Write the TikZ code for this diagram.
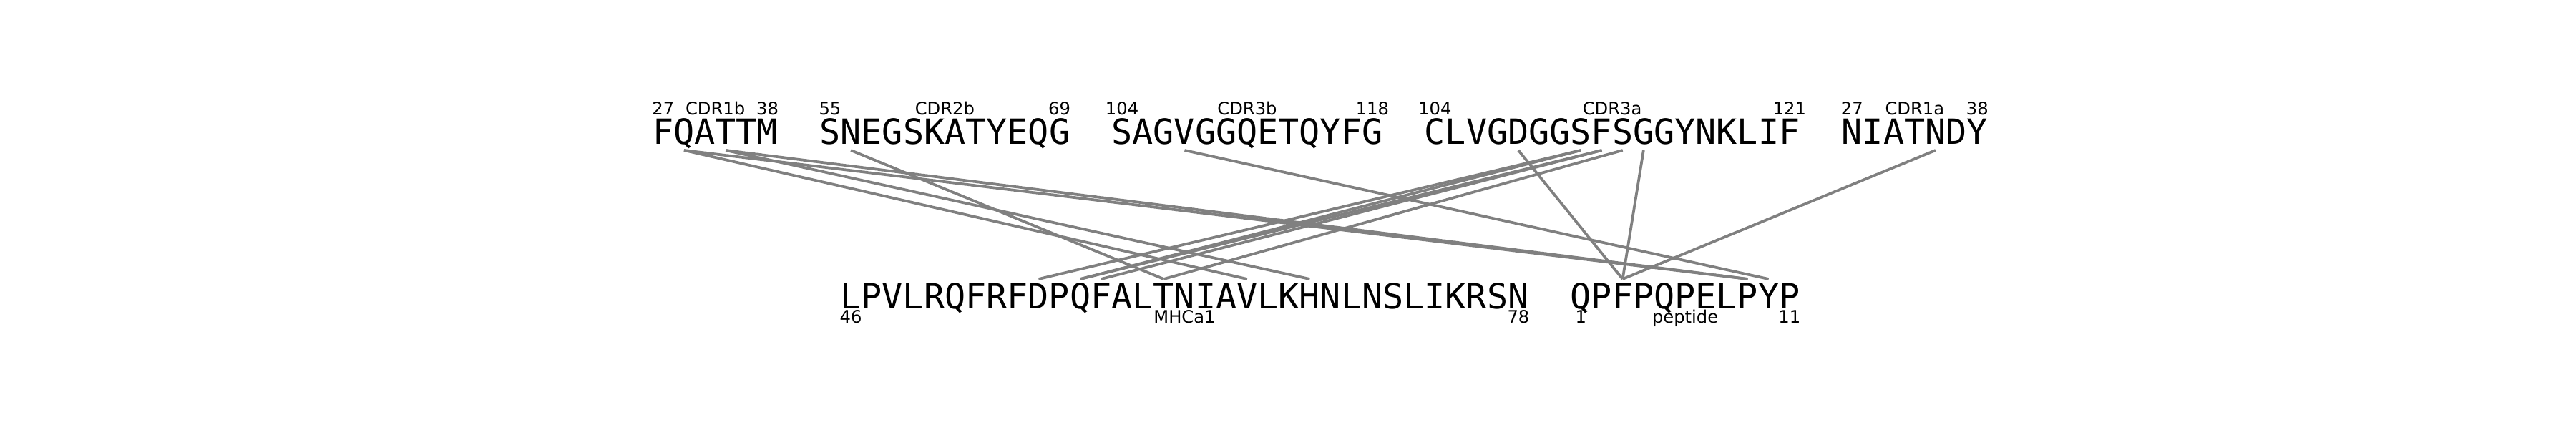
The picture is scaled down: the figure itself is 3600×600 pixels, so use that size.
\documentclass[tikz,border=0pt]{standalone}
\usepackage{fontspec}
\setmainfont{DejaVu Sans}
\newfontfamily\resmono{DejaVu Sans Mono}
\begin{document}
\begin{tikzpicture}[x=0.24pt,y=-0.24pt,
  seq/.style={anchor=base west,inner sep=0pt,outer sep=0pt,font=\resmono\fontsize{11.62pt}{12pt}\selectfont},
  lab/.style={anchor=base,inner sep=0pt,outer sep=0pt,font=\fontsize{5.81pt}{6pt}\selectfont},
  contact/.style={draw=gray,line width=0.9pt}]
\useasboundingbox (0,0) rectangle (3600,600);
\def\adv{29.15}
\def\xt{912.2}
\def\xb{1174.5}
% residue anchor coordinates
\foreach \i in {0,...,63} {\coordinate (t\i) at ({\xt+(\i+0.5)*\adv},210);}
\foreach \i in {0,...,45} {\coordinate (b\i) at ({\xb+(\i+0.5)*\adv},390);}
% top sequences
\node[seq] (cdr1b) at ({\xt+0*\adv},201.7) {FQATTM};
\node[seq] (cdr2b) at ({\xt+8*\adv},201.7) {SNEGSKATYEQG};
\node[seq] (cdr3b) at ({\xt+22*\adv},201.7) {SAGVGGQETQYFG};
\node[seq] (cdr3a) at ({\xt+37*\adv},201.7) {CLVGDGGSFSGGYNKLIF};
\node[seq] (cdr1a) at ({\xt+57*\adv},201.7) {NIATNDY};
% bottom sequences
\node[seq] (mhc) at ({\xb+0*\adv},431.7) {LPVLRQFRFDPQFALTNIAVLKHNLNSLIKRSN};
\node[seq] (pep) at ({\xb+35*\adv},431.7) {QPFPQPELPYP};
% top labels
\node[lab] (l1) at ({\xt+0.5*\adv},160) {27};
\node[lab] (l2) at ({\xt+3*\adv},160) {CDR1b};
\node[lab] (l3) at ({\xt+5.5*\adv},160) {38};
\node[lab] (l4) at ({\xt+8.5*\adv},160) {55};
\node[lab] (l5) at ({\xt+14*\adv},160) {CDR2b};
\node[lab] (l6) at ({\xt+19.5*\adv},160) {69};
\node[lab] (l7) at ({\xt+22.5*\adv},160) {104};
\node[lab] (l8) at ({\xt+28.5*\adv},160) {CDR3b};
\node[lab] (l9) at ({\xt+34.5*\adv},160) {118};
\node[lab] (l10) at ({\xt+37.5*\adv},160) {104};
\node[lab] (l11) at ({\xt+46*\adv},160) {CDR3a};
\node[lab] (l12) at ({\xt+54.5*\adv},160) {121};
\node[lab] (l13) at ({\xt+57.5*\adv},160) {27};
\node[lab] (l14) at ({\xt+60.5*\adv},160) {CDR1a};
\node[lab] (l15) at ({\xt+63.5*\adv},160) {38};
% bottom labels
\node[lab] (m1) at ({\xb+0.5*\adv},451.7) {46};
\node[lab] (m2) at ({\xb+16.5*\adv},451.7) {MHCa1};
\node[lab] (m3) at ({\xb+32.5*\adv},451.7) {78};
\node[lab] (m4) at ({\xb+35.5*\adv},451.7) {1};
\node[lab] (m5) at ({\xb+40.5*\adv},451.7) {peptide};
\node[lab] (m6) at ({\xb+45.5*\adv},451.7) {11};
% contacts
\draw[contact] (t1) -- (b19);
\draw[contact] (t1) -- (b43);
\draw[contact] (t3) -- (b22);
\draw[contact] (t3) -- (b43);
\draw[contact] (t9) -- (b15);
\draw[contact] (t25) -- (b44);
\draw[contact] (t41) -- (b37);
\draw[contact] (t47) -- (b37);
\draw[contact] (t61) -- (b37);
\draw[contact] (t44) -- (b9);
\draw[contact] (t44) -- (b11);
\draw[contact] (t45) -- (b11);
\draw[contact] (t45) -- (b12);
\draw[contact] (t46) -- (b15);
\end{tikzpicture}
\end{document}
